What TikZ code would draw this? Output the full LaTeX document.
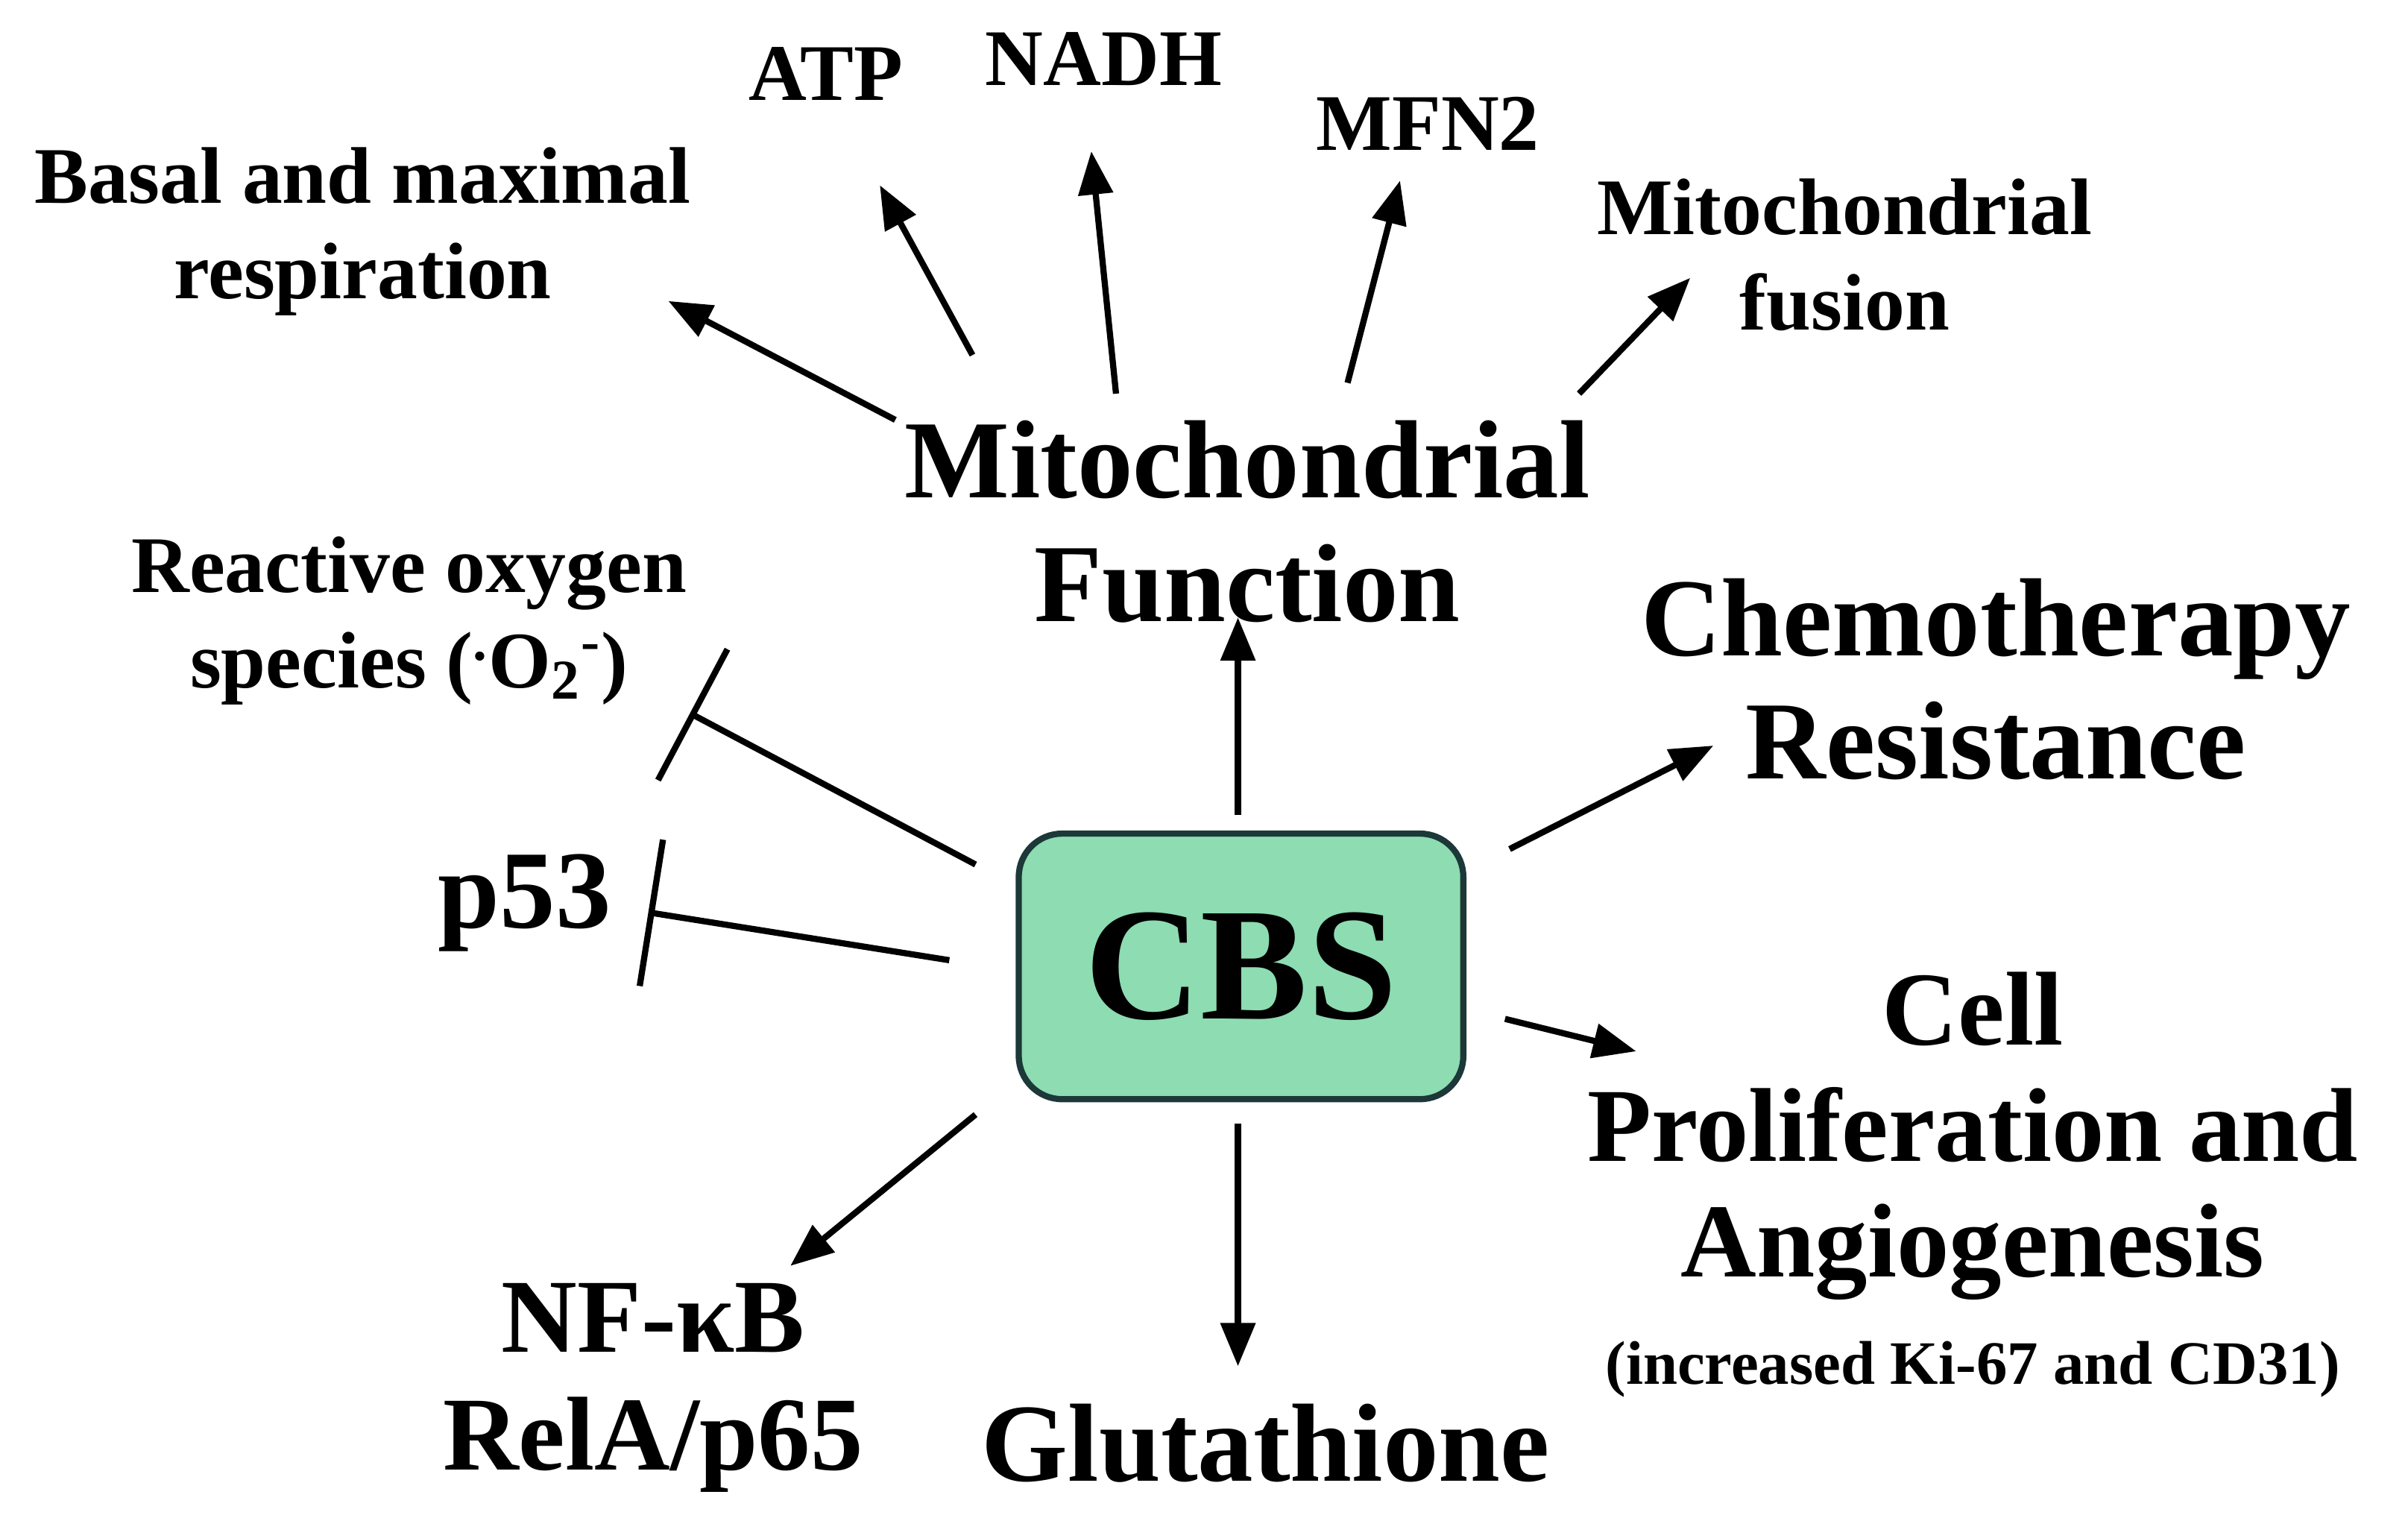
\documentclass[tikz,border=0pt]{standalone}
\usepackage{fontspec}
\setmainfont{Liberation Serif}
\usetikzlibrary{arrows.meta}
\definecolor{boxfill}{HTML}{8DDCB2}
\definecolor{boxline}{HTML}{1C3838}
\begin{document}
\begin{tikzpicture}[x=0.5pt,y=-0.5pt,
  lbl/.style={font=\bfseries\fontsize{26pt}{31pt}\selectfont,align=center},
  big/.style={font=\bfseries\fontsize{36pt}{40pt}\selectfont,align=center},
  act/.style={line width=2pt,-{Triangle[length=14pt,width=11pt]}},
  inh/.style={line width=2pt,-{Bar[width=48pt,line width=2pt]}}]
\useasboundingbox (0,0) rectangle (1560,985);
\node[draw=boxline,line width=2pt,fill=boxfill,rounded corners=14pt,minimum width=144pt,minimum height=86pt,font=\bfseries\fontsize{52pt}{56pt}\selectfont] (cbs) at (804,626) {CBS};
\node[lbl] (basal) at (235,150) {Basal and maximal\\respiration};
\node[lbl] (atp) at (535,48) {ATP};
\node[lbl] (nadh) at (715,38) {NADH};
\node[lbl] (mfn) at (925,80) {MFN2};
\node[lbl] (fus) at (1195,165) {Mitochondrial\\fusion};
\node[big] (mito) at (808,338) {Mitochondrial\\Function};
\node[lbl] (ros) at (265,402) {Reactive oxygen\\species (\textsuperscript{.}O\textsubscript{2}\textsuperscript{-})};
\node[big] (chemo) at (1293,440) {Chemotherapy\\Resistance};
\node[big] (p53) at (340,585) {p53};
\node[font=\bfseries\fontsize{34pt}{37.5pt}\selectfont,align=center] (cell) at (1278,736) {Cell\\Proliferation and\\Angiogenesis};
\node[font=\bfseries\fontsize{20pt}{24pt}\selectfont] (inc) at (1278,887) {(increased Ki-67 and CD31)};
\node[font=\bfseries\fontsize{34pt}{38pt}\selectfont,align=center] (nfkb) at (423,899) {NF-κB\\RelA/p65};
\node[big] (glu) at (820,935) {Glutathione};
% connector endpoints
\coordinate (a1) at (580,272); \coordinate (b1) at (433,195);
\coordinate (a2) at (630,230); \coordinate (b2) at (570,120);
\coordinate (a3) at (723,255); \coordinate (b3) at (707,98);
\coordinate (a4) at (873,248); \coordinate (b4) at (907,117);
\coordinate (a5) at (1023,255); \coordinate (b5) at (1095,180);
\coordinate (a6) at (802,528); \coordinate (b6) at (802,400);
\coordinate (a7) at (978,550); \coordinate (b7) at (1110,483);
\coordinate (a8) at (975,660); \coordinate (b8) at (1060,681);
\coordinate (a9) at (802,728); \coordinate (b9) at (802,885);
\coordinate (a10) at (632,722); \coordinate (b10) at (512,820);
\coordinate (a11) at (632,560); \coordinate (b11) at (447,462);
\coordinate (a12) at (615,622); \coordinate (b12) at (420,591);
\draw[act] (a1) -- (b1);
\draw[act] (a2) -- (b2);
\draw[act] (a3) -- (b3);
\draw[act] (a4) -- (b4);
\draw[act] (a5) -- (b5);
\draw[act] (a6) -- (b6);
\draw[act] (a7) -- (b7);
\draw[act] (a8) -- (b8);
\draw[act] (a9) -- (b9);
\draw[act] (a10) -- (b10);
\draw[inh] (a11) -- (b11);
\draw[inh] (a12) -- (b12);
\end{tikzpicture}
\end{document}
